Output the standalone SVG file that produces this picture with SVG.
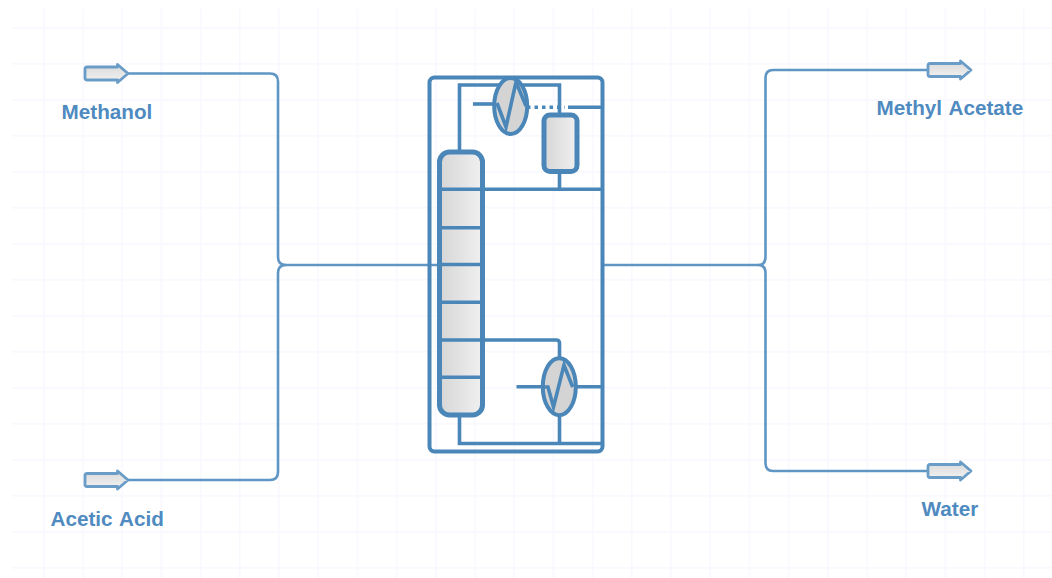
<svg xmlns="http://www.w3.org/2000/svg" width="1052" height="578" viewBox="0 0 1052 578">
<style>
.pipe{fill:none;stroke:#4a86b8;stroke-width:3.6}
.feed{fill:none;stroke:#5f96c4;stroke-width:2.6}
.vessel{stroke:#4a86b8;stroke-width:5}
.hx{fill:#d4d4d4;stroke:#4a86b8;stroke-width:4}
.zig{fill:none;stroke:#4a86b8;stroke-width:3.6;stroke-linejoin:miter}
.port{fill:url(#portFill);stroke:#6a9cc8;stroke-width:2.8;stroke-linejoin:round}
.lbl{font-family:"Liberation Sans",Arial,sans-serif;font-weight:bold;font-size:20.7px;word-spacing:1.5px;fill:#4f8ac0}
</style>
<defs>
<pattern id="grid" patternUnits="userSpaceOnUse" x="43" y="27" width="39.2" height="36">
<rect x="0" y="0" width="1.5" height="36" fill="#f8f8ff"/>
<rect x="0" y="0" width="39.2" height="1.5" fill="#f8f8ff"/>
</pattern>
<linearGradient id="portFill" x1="0" y1="0" x2="0" y2="1">
<stop offset="0" stop-color="#d8d8d8"/><stop offset="1" stop-color="#f4f4f4"/>
</linearGradient>
<linearGradient id="vesselFill" x1="0" y1="0" x2="1" y2="0">
<stop offset="0" stop-color="#d6d6d6"/><stop offset="1" stop-color="#f0f0f0"/>
</linearGradient>
<path id="portShape" d="M2-6.500H32.500V-9L43 0L32.500 9V6.500H2Q0 6.500 0 4.500V-4.500Q0-6.500 2-6.500Z"/>
</defs>
<rect x="12" y="9" width="1040" height="569" fill="url(#grid)"/>
<g id="connectors">
<path class="feed" d="M128 73.500H270Q278 73.500 278 81.500V257Q278 265 286 265"/>
<path class="feed" d="M128 480H270Q278 480 278 472V273Q278 265 286 265H439"/>
<path class="feed" d="M928 70H773Q765.500 70 765.500 78V257Q765.500 265 758 265"/>
<path class="feed" d="M928 471H773Q765.500 471 765.500 463V273Q765.500 265 758 265H603"/>
</g>
<g id="process-unit">
<rect x="429.500" y="77.500" width="173" height="374" rx="5" fill="none" stroke="#4a86b8" stroke-width="4"/>
<path class="pipe" d="M459.500 152V85H559.500V115"/>
<path class="pipe" d="M473 104H494"/>
<path class="pipe" d="M527 107.300H565" stroke-dasharray="3.500 4"/>
<path class="pipe" d="M568 107.300H602"/>
<path class="pipe" d="M482 189.300H602M559.500 172V189"/>
<path class="pipe" d="M482 340H556Q559.500 340 559.500 343V358"/>
<path class="pipe" d="M516.500 386.700H543M576 386.700H602"/>
<path class="pipe" d="M559.500 416V443.500M459.500 415V443.500H602"/>
</g>
<g id="column">
<rect class="vessel" x="439.500" y="152" width="43" height="263" rx="10" fill="url(#vesselFill)"/>
<path class="pipe" d="M440 189.300H482M440 227.700H482M440 264.500H482M440 302.300H482M440 340H482M440 377.300H482"/>
</g>
<g id="condenser">
<ellipse class="hx" cx="510.700" cy="106" rx="16.500" ry="28"/>
<path class="zig" d="M497 103L506 127L516 82L526 106"/>
</g>
<g id="drum">
<rect class="vessel" x="544" y="115" width="33" height="56.500" rx="6" fill="url(#vesselFill)"/>
</g>
<g id="reboiler">
<ellipse class="hx" cx="559.300" cy="386.700" rx="16.500" ry="28.500"/>
<path class="zig" d="M544 387H548L553.500 407L564 365L572.700 387"/>
</g>
<g id="methanol"><use href="#portShape" class="port" x="85" y="73.500"/><text class="lbl" x="61.500" y="118.500">Methanol</text></g>
<g id="acetic-acid"><use href="#portShape" class="port" x="85" y="480"/><text class="lbl" x="50.500" y="525.500">Acetic Acid</text></g>
<g id="methyl-acetate"><use href="#portShape" class="port" x="928" y="70"/><text class="lbl" x="876.500" y="115">Methyl Acetate</text></g>
<g id="water"><use href="#portShape" class="port" x="928" y="471"/><text class="lbl" x="921.500" y="515.500">Water</text></g>
</svg>
